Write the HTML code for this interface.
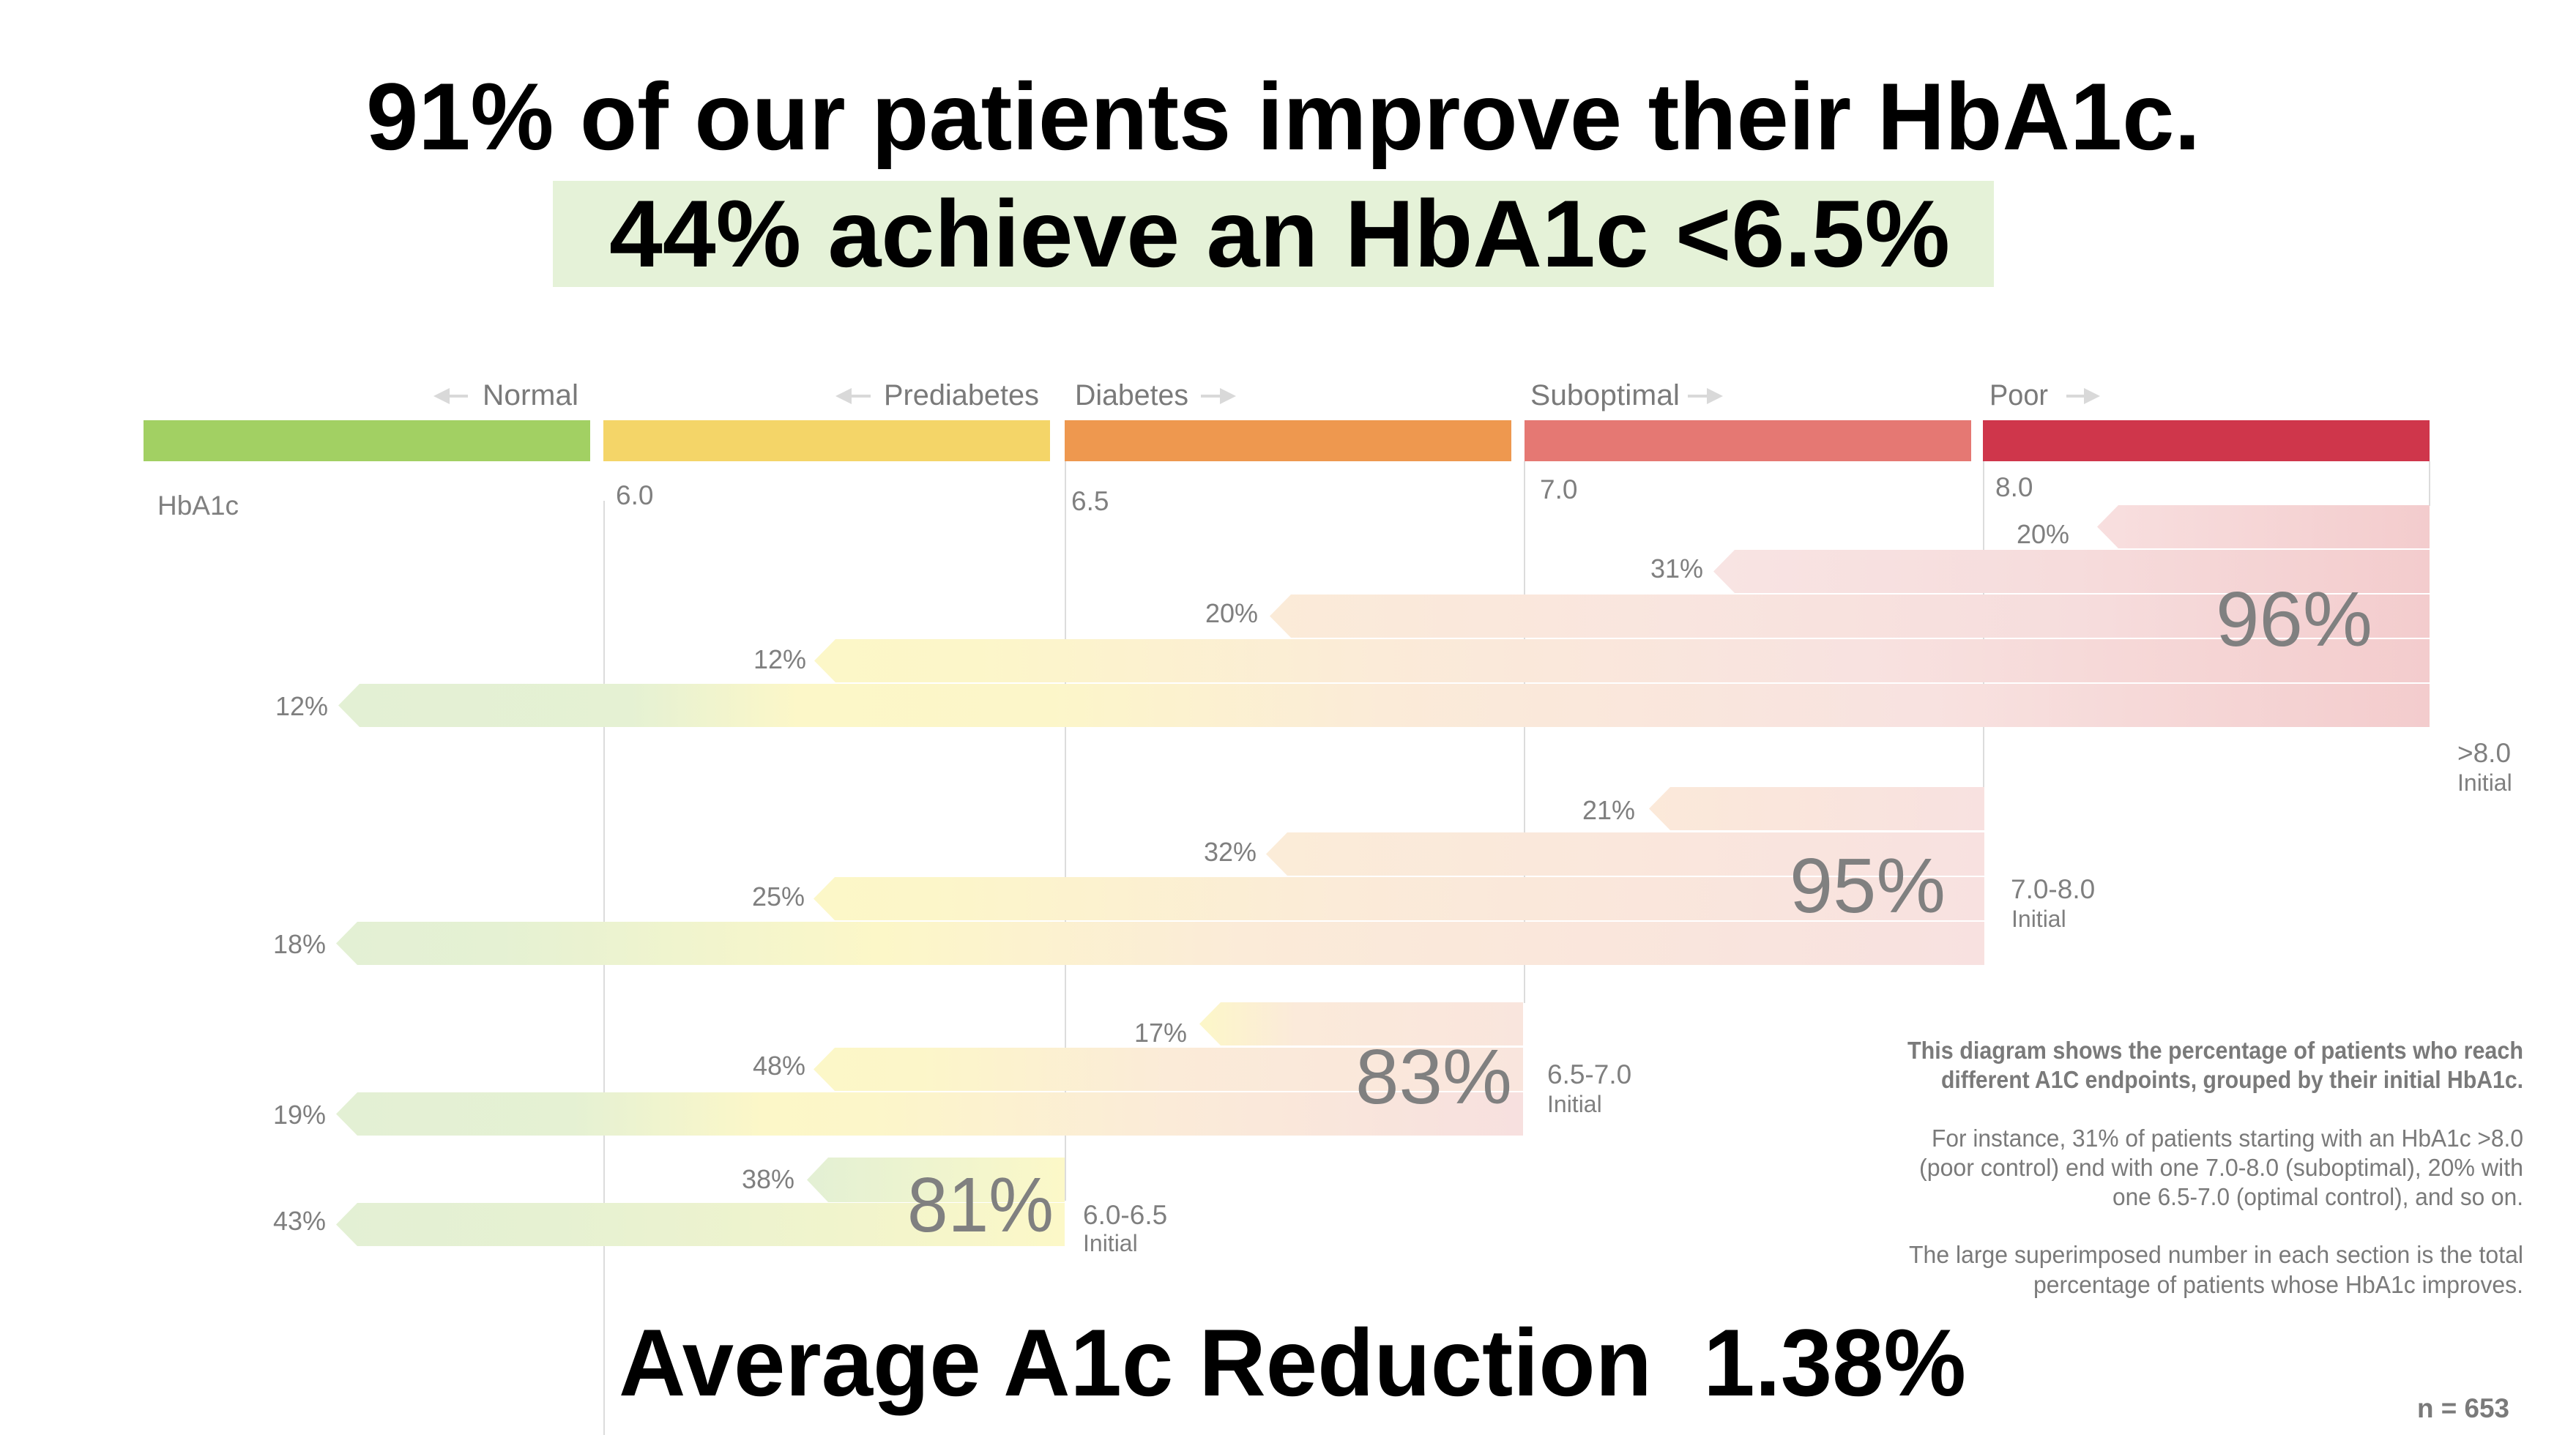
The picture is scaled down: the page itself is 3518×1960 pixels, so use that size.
<!DOCTYPE html>
<html>
<head>
<meta charset="utf-8">
<style>
  html, body { margin: 0; padding: 0; background: #ffffff; }
  svg { display: block; }
  text { font-family: "Liberation Sans", sans-serif; }
</style>
</head>
<body>
<svg xmlns="http://www.w3.org/2000/svg" width="3518" height="1960" viewBox="0 0 3518 1960">
  <defs>
    <linearGradient id="g1r1" x1="0" y1="0" x2="1" y2="0">
      <stop offset="0" stop-color="#f8dfdf"/><stop offset="1" stop-color="#f3cccd"/>
    </linearGradient>
    <linearGradient id="g1r2" x1="0" y1="0" x2="1" y2="0">
      <stop offset="0" stop-color="#f8e4e3"/><stop offset="0.5" stop-color="#f6dcdc"/><stop offset="1" stop-color="#f3cccd"/>
    </linearGradient>
    <linearGradient id="g1r3" x1="0" y1="0" x2="1" y2="0">
      <stop offset="0" stop-color="#fbebd8"/><stop offset="0.35" stop-color="#f9e5df"/><stop offset="0.7" stop-color="#f6dddd"/><stop offset="1" stop-color="#f3cccd"/>
    </linearGradient>
    <linearGradient id="g1r4" x1="0" y1="0" x2="1" y2="0">
      <stop offset="0" stop-color="#fcf7c8"/><stop offset="0.1" stop-color="#fcf6c9"/><stop offset="0.35" stop-color="#fbebd8"/><stop offset="0.65" stop-color="#f8e2e0"/><stop offset="1" stop-color="#f3cccd"/>
    </linearGradient>
    <linearGradient id="g1r5" x1="0" y1="0" x2="1" y2="0">
      <stop offset="0" stop-color="#e3f0d4"/><stop offset="0.14" stop-color="#e5f1d3"/><stop offset="0.22" stop-color="#fcf7c8"/><stop offset="0.34" stop-color="#fcf6c9"/><stop offset="0.5" stop-color="#fbebd8"/><stop offset="0.76" stop-color="#f8e2e0"/><stop offset="1" stop-color="#f3cccd"/>
    </linearGradient>
    <linearGradient id="g2r1" x1="0" y1="0" x2="1" y2="0">
      <stop offset="0" stop-color="#fbe9d9"/><stop offset="1" stop-color="#f8e1e0"/>
    </linearGradient>
    <linearGradient id="g2r2" x1="0" y1="0" x2="1" y2="0">
      <stop offset="0" stop-color="#fbecd8"/><stop offset="0.5" stop-color="#fae7dc"/><stop offset="1" stop-color="#f8e1e0"/>
    </linearGradient>
    <linearGradient id="g2r3" x1="0" y1="0" x2="1" y2="0">
      <stop offset="0" stop-color="#fcf7c8"/><stop offset="0.1" stop-color="#fcf6c9"/><stop offset="0.45" stop-color="#fbebd8"/><stop offset="1" stop-color="#f8e1e0"/>
    </linearGradient>
    <linearGradient id="g2r4" x1="0" y1="0" x2="1" y2="0">
      <stop offset="0" stop-color="#e3f0d4"/><stop offset="0.1" stop-color="#e5f1d3"/><stop offset="0.33" stop-color="#fcf7c8"/><stop offset="0.55" stop-color="#fbebd8"/><stop offset="1" stop-color="#f8e1e0"/>
    </linearGradient>
    <linearGradient id="g3r1" x1="0" y1="0" x2="1" y2="0">
      <stop offset="0" stop-color="#fcf7c8"/><stop offset="0.3" stop-color="#fbeada"/><stop offset="1" stop-color="#f9e5dd"/>
    </linearGradient>
    <linearGradient id="g3r2" x1="0" y1="0" x2="1" y2="0">
      <stop offset="0" stop-color="#fcf7c8"/><stop offset="0.15" stop-color="#fcf6c9"/><stop offset="0.5" stop-color="#fbebd8"/><stop offset="1" stop-color="#f9e5dd"/>
    </linearGradient>
    <linearGradient id="g3r3" x1="0" y1="0" x2="1" y2="0">
      <stop offset="0" stop-color="#e3f0d4"/><stop offset="0.2" stop-color="#e5f1d3"/><stop offset="0.36" stop-color="#fcf7c8"/><stop offset="0.45" stop-color="#fcf6c9"/><stop offset="0.7" stop-color="#fbebd8"/><stop offset="1" stop-color="#f7e0df"/>
    </linearGradient>
    <linearGradient id="g4r1" x1="0" y1="0" x2="1" y2="0">
      <stop offset="0" stop-color="#e3f0d4"/><stop offset="0.35" stop-color="#ebf3d0"/><stop offset="1" stop-color="#fcf8c8"/>
    </linearGradient>
    <linearGradient id="g4r2" x1="0" y1="0" x2="1" y2="0">
      <stop offset="0" stop-color="#e3f0d4"/><stop offset="0.3" stop-color="#e6f1d2"/><stop offset="0.7" stop-color="#f1f4cc"/><stop offset="1" stop-color="#fcf8c8"/>
    </linearGradient>
  </defs>

  <rect x="0" y="0" width="3518" height="1960" fill="#ffffff"/>

  <!-- Title -->
  <text x="500" y="204" font-size="130" font-weight="bold" fill="#000" textLength="2505" lengthAdjust="spacingAndGlyphs">91% of our patients improve their HbA1c.</text>
  <rect x="755" y="247" width="1968" height="145" fill="#e5f2d8"/>
  <text x="832" y="364" font-size="130" font-weight="bold" fill="#000" textLength="1831" lengthAdjust="spacingAndGlyphs">44% achieve an HbA1c &lt;6.5%</text>

  <!-- Category labels with arrows -->
  <g fill="#7a7a7a" font-size="40">
    <text x="790" y="553" text-anchor="end" textLength="131" lengthAdjust="spacingAndGlyphs">Normal</text>
    <text x="1419" y="553" text-anchor="end" textLength="212" lengthAdjust="spacingAndGlyphs">Prediabetes</text>
    <text x="1468" y="553" textLength="155" lengthAdjust="spacingAndGlyphs">Diabetes</text>
    <text x="2090" y="553" textLength="204" lengthAdjust="spacingAndGlyphs">Suboptimal</text>
    <text x="2717" y="553" textLength="80" lengthAdjust="spacingAndGlyphs">Poor</text>
  </g>
  <g fill="#d9d9d9" stroke="#d9d9d9">
    <line x1="610" y1="541" x2="639" y2="541" stroke-width="4"/>
    <polygon points="592,541 614,530 614,552" stroke="none"/>
    <line x1="1159" y1="541" x2="1189" y2="541" stroke-width="4"/>
    <polygon points="1141,541 1163,530 1163,552" stroke="none"/>
    <line x1="1640" y1="541" x2="1670" y2="541" stroke-width="4"/>
    <polygon points="1688,541 1666,530 1666,552" stroke="none"/>
    <line x1="2305" y1="541" x2="2335" y2="541" stroke-width="4"/>
    <polygon points="2353,541 2331,530 2331,552" stroke="none"/>
    <line x1="2822" y1="541" x2="2850" y2="541" stroke-width="4"/>
    <polygon points="2868,541 2846,530 2846,552" stroke="none"/>
  </g>

  <!-- Category color bars -->
  <rect x="196" y="574" width="610" height="56" fill="#a2d063"/>
  <rect x="824" y="574" width="610" height="56" fill="#f4d568"/>
  <rect x="1454" y="574" width="610" height="56" fill="#ee984f"/>
  <rect x="2082" y="574" width="610" height="56" fill="#e57873"/>
  <rect x="2708" y="574" width="610" height="56" fill="#cf364b"/>

  <!-- vertical guide lines -->
  <g stroke="#dcdcdc" stroke-width="2">
    <line x1="825" y1="684" x2="825" y2="1960"/>
    <line x1="1455" y1="630" x2="1455" y2="1640"/>
    <line x1="2082" y1="630" x2="2082" y2="1370"/>
    <line x1="2709" y1="630" x2="2709" y2="1076"/>
    <line x1="3318" y1="630" x2="3318" y2="691"/>
  </g>

  <!-- Axis labels -->
  <g fill="#7f7f7f" font-size="37">
    <text x="215" y="703">HbA1c</text>
    <text x="841" y="689">6.0</text>
    <text x="1463" y="697">6.5</text>
    <text x="2103" y="681">7.0</text>
    <text x="2725" y="678">8.0</text>
  </g>

  <!-- Group 1 (>8.0) -->
  <polygon points="2864,719.5 2893,690 3318,690 3318,749 2893,749" fill="url(#g1r1)"/>
  <polygon points="2340,780.5 2369,751 3318,751 3318,810 2369,810" fill="url(#g1r2)"/>
  <polygon points="1734,841.5 1763,812 3318,812 3318,871 1763,871" fill="url(#g1r3)"/>
  <polygon points="1112,902.5 1141,873 3318,873 3318,932 1141,932" fill="url(#g1r4)"/>
  <polygon points="462,963.5 491,934 3318,934 3318,993 491,993" fill="url(#g1r5)"/>

  <!-- Group 2 (7.0-8.0) -->
  <polygon points="2252,1104.5 2281,1075 2710,1075 2710,1134 2281,1134" fill="url(#g2r1)"/>
  <polygon points="1729,1166.5 1758,1137 2710,1137 2710,1196 1758,1196" fill="url(#g2r2)"/>
  <polygon points="1111,1227.5 1140,1198 2710,1198 2710,1257 1140,1257" fill="url(#g2r3)"/>
  <polygon points="459,1288.5 488,1259 2710,1259 2710,1318 488,1318" fill="url(#g2r4)"/>

  <!-- Group 3 (6.5-7.0) -->
  <polygon points="1638,1398.5 1667,1369 2080,1369 2080,1428 1667,1428" fill="url(#g3r1)"/>
  <polygon points="1111,1460.5 1140,1431 2080,1431 2080,1490 1140,1490" fill="url(#g3r2)"/>
  <polygon points="459,1521.5 488,1492 2080,1492 2080,1551 488,1551" fill="url(#g3r3)"/>

  <!-- Group 4 (6.0-6.5) -->
  <polygon points="1102,1611.5 1131,1581 1454,1581 1454,1642 1131,1642" fill="url(#g4r1)"/>
  <polygon points="459,1672.5 488,1643 1454,1643 1454,1702 488,1702" fill="url(#g4r2)"/>

  <!-- Percent labels -->
  <g fill="#7f7f7f" font-size="36" text-anchor="end">
    <text x="2826" y="742">20%</text>
    <text x="2326" y="789">31%</text>
    <text x="1718" y="850">20%</text>
    <text x="1101" y="913">12%</text>
    <text x="448" y="977">12%</text>

    <text x="2233" y="1119">21%</text>
    <text x="1716" y="1176">32%</text>
    <text x="1099" y="1237">25%</text>
    <text x="445" y="1302">18%</text>

    <text x="1621" y="1423">17%</text>
    <text x="1100" y="1468">48%</text>
    <text x="445" y="1535">19%</text>

    <text x="1085" y="1623">38%</text>
    <text x="445" y="1680">43%</text>
  </g>

  <!-- Big totals -->
  <g fill="#808080" font-size="106">
    <text x="3026" y="882" textLength="214" lengthAdjust="spacingAndGlyphs">96%</text>
    <text x="2444" y="1246" textLength="213" lengthAdjust="spacingAndGlyphs">95%</text>
    <text x="1851" y="1507" textLength="214" lengthAdjust="spacingAndGlyphs">83%</text>
    <text x="1239" y="1682" textLength="200" lengthAdjust="spacingAndGlyphs">81%</text>
  </g>

  <!-- Initial labels -->
  <g fill="#7f7f7f">
    <text x="3356" y="1041" font-size="37">&gt;8.0</text>
    <text x="3356" y="1080" font-size="32">Initial</text>
    <text x="2746" y="1227" font-size="37">7.0-8.0</text>
    <text x="2747" y="1266" font-size="32">Initial</text>
    <text x="2113" y="1480" font-size="37">6.5-7.0</text>
    <text x="2113" y="1519" font-size="32">Initial</text>
    <text x="1479" y="1672" font-size="37">6.0-6.5</text>
    <text x="1479" y="1709" font-size="32">Initial</text>
  </g>

  <!-- Explanatory paragraph -->
  <g fill="#7a7a7a" font-size="33" text-anchor="end">
    <text x="3446" y="1446" font-weight="bold" textLength="841" lengthAdjust="spacingAndGlyphs">This diagram shows the percentage of patients who reach</text>
    <text x="3446" y="1486" font-weight="bold" textLength="795" lengthAdjust="spacingAndGlyphs">different A1C endpoints, grouped by their initial HbA1c.</text>
    <text x="3446" y="1566" textLength="808" lengthAdjust="spacingAndGlyphs">For instance, 31% of patients starting with an HbA1c &gt;8.0</text>
    <text x="3446" y="1606" textLength="825" lengthAdjust="spacingAndGlyphs">(poor control) end with one 7.0-8.0 (suboptimal), 20% with</text>
    <text x="3446" y="1646" textLength="561" lengthAdjust="spacingAndGlyphs">one 6.5-7.0 (optimal control), and so on.</text>
    <text x="3446" y="1725" textLength="839" lengthAdjust="spacingAndGlyphs">The large superimposed number in each section is the total</text>
    <text x="3446" y="1766" textLength="669" lengthAdjust="spacingAndGlyphs">percentage of patients whose HbA1c improves.</text>
  </g>
  <text x="3301" y="1936" font-size="37" font-weight="bold" fill="#7a7a7a" textLength="126" lengthAdjust="spacingAndGlyphs">n = 653</text>

  <!-- Bottom headline -->
  <text x="845" y="1906" font-size="130" font-weight="bold" fill="#000" textLength="1840" lengthAdjust="spacingAndGlyphs">Average A1c Reduction&#160;&#160;1.38%</text>
</svg>
</body>
</html>
